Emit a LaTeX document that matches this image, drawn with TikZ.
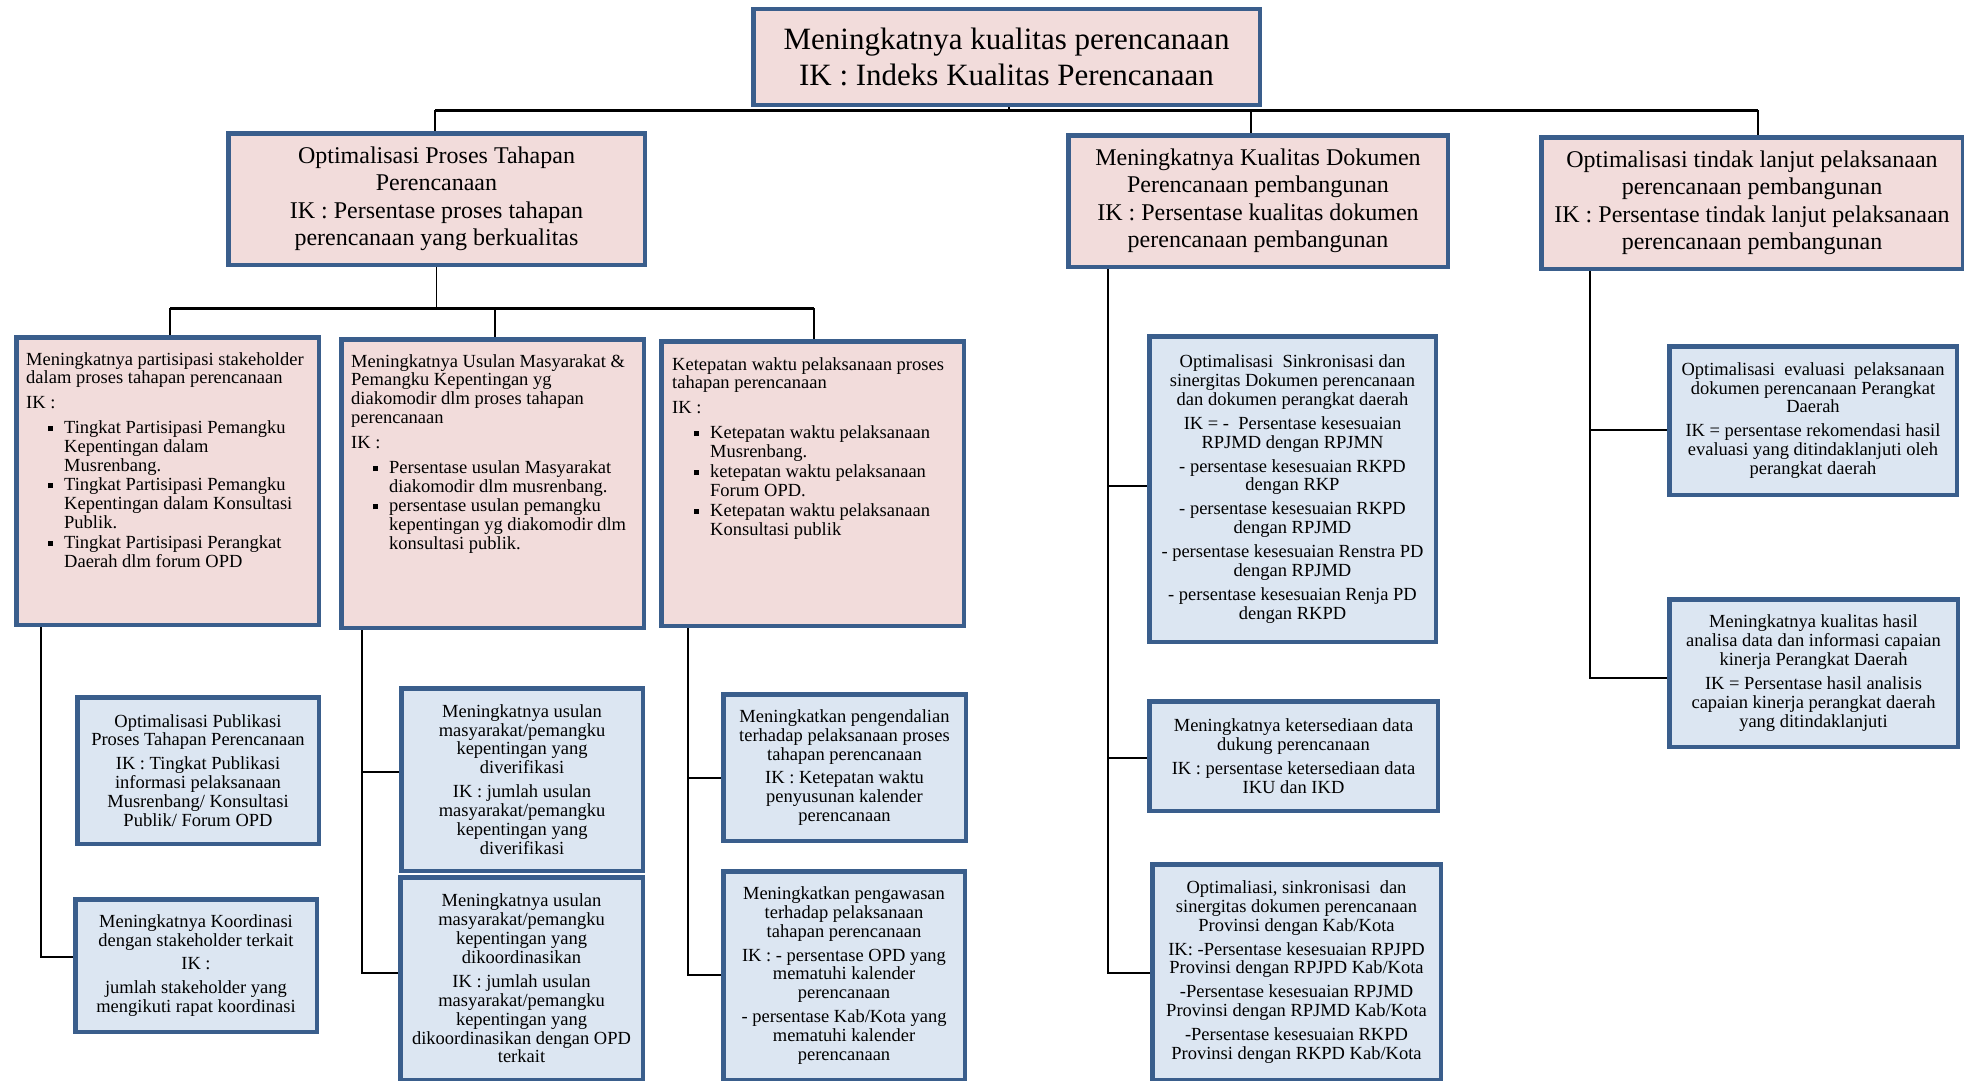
\documentclass[tikz,border=0pt]{standalone}
\usepackage{fontspec}
\setmainfont{Liberation Serif}
\definecolor{pinkc}{HTML}{F2DCDB}
\definecolor{bluec}{HTML}{DCE6F2}
\definecolor{bordc}{HTML}{3A5E8C}
\newcommand\sqb{\rule[2.5pt]{5pt}{5pt}}
\newcommand\bitem[1]{\hspace*{22pt}\makebox[16pt][l]{\sqb}#1}
\newcommand\bcont[1]{\hspace*{38pt}#1}
\newcommand\mybox[7]{%
  \pgfmathsetmacro\myBW{#5-#3-4.5}%
  \pgfmathsetmacro\myBH{#6-#4-4.5}%
  \node[#2, minimum width=\myBW pt, minimum height=\myBH pt] (#1) at ({(#3+#5)/2},{(#4+#6)/2}) {#7};}
\tikzset{
  box/.style={draw=bordc, line width=4.5pt, inner sep=2pt, align=center},
  pinkbox/.style={box, fill=pinkc},
  bluebox/.style={box, fill=bluec},
  fa/.style={font=\fontsize{31}{36}\selectfont},
  fb/.style={font=\fontsize{24}{27.5}\selectfont},
  fc/.style={font=\fontsize{18.5}{18.9}\selectfont},
  conn/.style={draw=black, line width=1.8pt},
  busl/.style={draw=black, line width=3pt},
  ltext/.style={fc, anchor=north west, align=left, inner sep=0pt}
}
\begin{document}
\begin{tikzpicture}[x=1pt, y=-1pt]
\fill[white] (0,0) rectangle (1964,1081);
\useasboundingbox (0,0) rectangle (1964,1081);

% level 1
\mybox{top}{pinkbox,fa}{751}{7}{1262}{107}{Meningkatnya kualitas perencanaan\\IK : Indeks Kualitas Perencanaan}

% level 2
\mybox{A}{pinkbox,fb}{226}{131}{647}{267}{Optimalisasi Proses Tahapan\\Perencanaan\\IK : Persentase proses tahapan\\perencanaan yang berkualitas}
\mybox{B}{pinkbox,fb}{1066}{133}{1450}{269}{Meningkatnya Kualitas Dokumen\\Perencanaan pembangunan\\IK : Persentase kualitas dokumen\\perencanaan pembangunan}
\mybox{C}{pinkbox,fb}{1539}{135}{1965}{271}{Optimalisasi tindak lanjut pelaksanaan\\perencanaan pembangunan\\IK : Persentase tindak lanjut pelaksanaan\\perencanaan pembangunan}

% level 3
\mybox{P1}{pinkbox}{14}{335}{321}{627}{}
\mybox{P2}{pinkbox}{339}{337}{646}{630}{}
\mybox{P3}{pinkbox}{659}{339}{966}{628}{}

\node[ltext] (P1t) at ([xshift=12pt,yshift=-17pt]P1.north west) {%
Meningkatnya partisipasi stakeholder\\
dalam proses tahapan perencanaan\\[6pt]
IK :\\[6pt]
\bitem{Tingkat Partisipasi Pemangku}\\
\bcont{Kepentingan dalam}\\
\bcont{Musrenbang.}\\[0.5pt]
\bitem{Tingkat Partisipasi Pemangku}\\
\bcont{Kepentingan dalam Konsultasi}\\
\bcont{Publik.}\\[0.5pt]
\bitem{Tingkat Partisipasi Perangkat}\\
\bcont{Daerah dlm forum OPD}};

\node[ltext] (P2t) at ([xshift=12pt,yshift=-17pt]P2.north west) {%
Meningkatnya Usulan Masyarakat \&\\
Pemangku Kepentingan yg\\
diakomodir dlm proses tahapan\\
perencanaan\\[6pt]
IK :\\[6pt]
\bitem{Persentase usulan Masyarakat}\\
\bcont{diakomodir dlm musrenbang.}\\[0.5pt]
\bitem{persentase usulan pemangku}\\
\bcont{kepentingan yg diakomodir dlm}\\
\bcont{konsultasi publik.}};

\node[ltext] (P3t) at ([xshift=13pt,yshift=-18pt]P3.north west) {%
Ketepatan waktu pelaksanaan proses\\
tahapan perencanaan\\[6pt]
IK :\\[6pt]
\bitem{Ketepatan waktu pelaksanaan}\\
\bcont{Musrenbang.}\\[1pt]
\bitem{ketepatan waktu pelaksanaan}\\
\bcont{Forum OPD.}\\[1pt]
\bitem{Ketepatan waktu pelaksanaan}\\
\bcont{Konsultasi publik}};

% level 4
\mybox{Q1}{bluebox,fc}{75}{695}{321}{846}{Optimalisasi Publikasi\\Proses Tahapan Perencanaan\\[5pt]IK : Tingkat Publikasi\\informasi pelaksanaan\\Musrenbang/ Konsultasi\\Publik/ Forum OPD}
\mybox{Q2}{bluebox,fc}{73}{897}{319}{1034}{Meningkatnya Koordinasi\\dengan stakeholder terkait\\[5pt]IK :\\[5pt]jumlah stakeholder yang\\mengikuti rapat koordinasi}
\mybox{R1}{bluebox,fc}{399}{686}{645}{873}{Meningkatnya usulan\\masyarakat/pemangku\\kepentingan yang\\diverifikasi\\[5pt]IK : jumlah usulan\\masyarakat/pemangku\\kepentingan yang\\diverifikasi}
\mybox{R2}{bluebox,fc}{398}{875}{645}{1082}{Meningkatnya usulan\\masyarakat/pemangku\\kepentingan yang\\dikoordinasikan\\[5pt]IK : jumlah usulan\\masyarakat/pemangku\\kepentingan yang\\dikoordinasikan dengan OPD\\terkait}
\mybox{S1}{bluebox,fc}{721}{692}{968}{843}{Meningkatkan pengendalian\\terhadap pelaksanaan proses\\tahapan perencanaan\\[5pt]IK : Ketepatan waktu\\penyusunan kalender\\perencanaan}
\mybox{S2}{bluebox,fc}{721}{869}{967}{1082}{Meningkatkan pengawasan\\terhadap pelaksanaan\\tahapan perencanaan\\[5pt]IK : - persentase OPD yang\\mematuhi kalender\\perencanaan\\[5pt]- persentase Kab/Kota yang\\mematuhi kalender\\perencanaan}
\mybox{T1}{bluebox,fc}{1147}{334}{1438}{644}{Optimalisasi\ \ Sinkronisasi dan\\sinergitas Dokumen perencanaan\\dan dokumen perangkat daerah\\[5pt]IK = -\ \ Persentase kesesuaian\\RPJMD dengan RPJMN\\[5pt]- persentase kesesuaian RKPD\\dengan RKP\\[5pt]- persentase kesesuaian RKPD\\dengan RPJMD\\[5pt]- persentase kesesuaian Renstra PD\\dengan RPJMD\\[5pt]- persentase kesesuaian Renja PD\\dengan RKPD}
\mybox{T2}{bluebox,fc}{1147}{699}{1440}{813}{Meningkatnya ketersediaan data\\dukung perencanaan\\[5pt]IK : persentase ketersediaan data\\IKU dan IKD}
\mybox{T3}{bluebox,fc}{1150}{862}{1443}{1082}{Optimaliasi, sinkronisasi\ \ dan\\sinergitas dokumen perencanaan\\Provinsi dengan Kab/Kota\\[5pt]IK: -Persentase kesesuaian RPJPD\\Provinsi dengan RPJPD Kab/Kota\\[5pt]-Persentase kesesuaian RPJMD\\Provinsi dengan RPJMD Kab/Kota\\[5pt]-Persentase kesesuaian RKPD\\Provinsi dengan RKPD Kab/Kota}
\mybox{U1}{bluebox,fc}{1667}{344}{1959}{497}{Optimalisasi\ \ evaluasi\ \ pelaksanaan\\dokumen perencanaan Perangkat\\Daerah\\[5pt]IK = persentase rekomendasi hasil\\evaluasi yang ditindaklanjuti oleh\\perangkat daerah}
\mybox{U2}{bluebox,fc}{1667}{597}{1960}{749}{Meningkatnya kualitas hasil\\analisa data dan informasi capaian\\kinerja Perangkat Daerah\\[5pt]IK = Persentase hasil analisis\\capaian kinerja perangkat daerah\\yang ditindaklanjuti}

% connectors level 1 -> 2
\coordinate (k0) at (1009,110);
\coordinate (kA) at (435,110);
\coordinate (kB) at (1251,110);
\coordinate (kC) at (1758,110);
\draw[busl] (kA) -- (kC);
\draw[conn] (k0 |- top.south) -- (k0);
\draw[conn] (kA) -- (kA |- A.north);
\draw[conn] (kB) -- (kB |- B.north);
\draw[conn] (kC) -- (kC |- C.north);

% connectors level 2 -> 3
\coordinate (m1) at (170,308);
\coordinate (m2) at (495,308);
\coordinate (m3) at (814,308);
\draw[conn] (A.south) -- (A.south |- m1);
\draw[busl] (m1) -- (m3);
\draw[conn] (m1) -- (m1 |- P1.north);
\draw[conn] (m2) -- (m2 |- P2.north);
\draw[conn] (m3) -- (m3 |- P3.north);

% P1 column
\coordinate (v1) at (41,957);
\draw[conn] (v1 |- P1.south) -- (v1) -- (v1 -| Q2.west);

% P2 column
\coordinate (v2a) at (362,772);
\coordinate (v2b) at (362,973);
\draw[conn] (v2b |- P2.south) -- (v2b) -- (v2b -| R2.west);
\draw[conn] (v2a) -- (v2a -| R1.west);

% P3 column
\coordinate (v3a) at (688,778);
\coordinate (v3b) at (688,975);
\draw[conn] (v3b |- P3.south) -- (v3b) -- (v3b -| S2.west);
\draw[conn] (v3a) -- (v3a -| S1.west);

% B column
\coordinate (wa) at (1108,486);
\coordinate (wb) at (1108,758);
\coordinate (wc) at (1108,973);
\draw[conn] (wc |- B.south) -- (wc) -- (wc -| T3.west);
\draw[conn] (wa) -- (wa -| T1.west);
\draw[conn] (wb) -- (wb -| T2.west);

% C column
\coordinate (ua) at (1590,430);
\coordinate (ub) at (1590,678);
\draw[conn] (ub |- C.south) -- (ub) -- (ub -| U2.west);
\draw[conn] (ua) -- (ua -| U1.west);
\end{tikzpicture}
\end{document}
